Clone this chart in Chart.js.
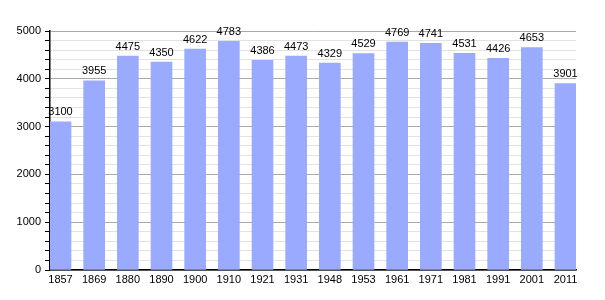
<!DOCTYPE html>
<html>
<head>
<meta charset="utf-8">
<script src="https://cdn.jsdelivr.net/npm/chart.js@4"></script>
<style>
  body { margin: 0; background: #fff; }
</style>
</head>
<body>
<canvas id="myChart" width="605" height="300"></canvas>
<script>
// census years and population
const years = ['1857', '1869', '1880', '1890', '1900', '1910', '1921', '1931', '1948', '1953', '1961', '1971', '1981', '1991', '2001', '2011'];
const population = [3100, 3955, 4475, 4350, 4622, 4783, 4386, 4473, 4329, 4529, 4769, 4741, 4531, 4426, 4653, 3901];
const yTicks = [0, 1000, 2000, 3000, 4000, 5000];

const ctx = document.getElementById('myChart').getContext('2d');

// points on a linear x axis so the first and last bars touch the plot edges
const points = population.map((v, i) => ({ x: i, y: v }));

// value above each bar
const valueLabels = {
    id: 'valueLabels',
    afterDatasetsDraw(chart) {
        const c = chart.ctx;
        const meta = chart.getDatasetMeta(0);
        c.save();
        c.font = '11px "Liberation Sans", Arial, sans-serif';
        c.fillStyle = '#000';
        c.textAlign = 'center';
        c.textBaseline = 'bottom';
        meta.data.forEach((el, i) => {
            c.fillText(String(population[i]), el.x, el.y - 4);
        });
        c.restore();
    }
};

new Chart(ctx, {
    type: 'bar',
    data: {
        datasets: [{
            data: points,
            backgroundColor: '#99aaff',
            borderWidth: 0,
            barThickness: 21
        }]
    },
    options: {
        responsive: false,
        animation: false,
        layout: { padding: { top: 31, right: 29, left: 0, bottom: 0 } },
        plugins: {
            legend: { display: false },
            tooltip: { enabled: true }
        },
        scales: {
            x: {
                type: 'linear',
                offset: false,
                min: -0.312,
                max: 15.312,
                grid: { display: false, drawTicks: false },
                border: { color: '#000', width: 1.5 },
                ticks: {
                    stepSize: 1,
                    includeBounds: false,
                    autoSkip: false,
                    maxRotation: 0,
                    padding: 3,
                    color: '#000',
                    font: { family: '"Liberation Sans", Arial, sans-serif', size: 11 },
                    callback: (v) => Number.isInteger(v) ? years[v] : ''
                },
                afterFit: (s) => { s.height = 30; }
            },
            y: {
                min: 0,
                max: 5000,
                grid: {
                    color: (c) => yTicks.includes(c.tick.value) ? '#aaaaaa' : '#e2e2e2',
                    tickColor: '#000',
                    tickLength: 5
                },
                border: { color: '#000', width: 1.5 },
                ticks: {
                    stepSize: 200,
                    autoSkip: false,
                    padding: 4,
                    color: '#000',
                    font: { family: '"Liberation Sans", Arial, sans-serif', size: 11 },
                    callback: (v) => yTicks.includes(v) ? v : ''
                },
                afterFit: (s) => { s.width = 50; }
            }
        }
    },
    plugins: [valueLabels]
});
</script>
</body>
</html>
